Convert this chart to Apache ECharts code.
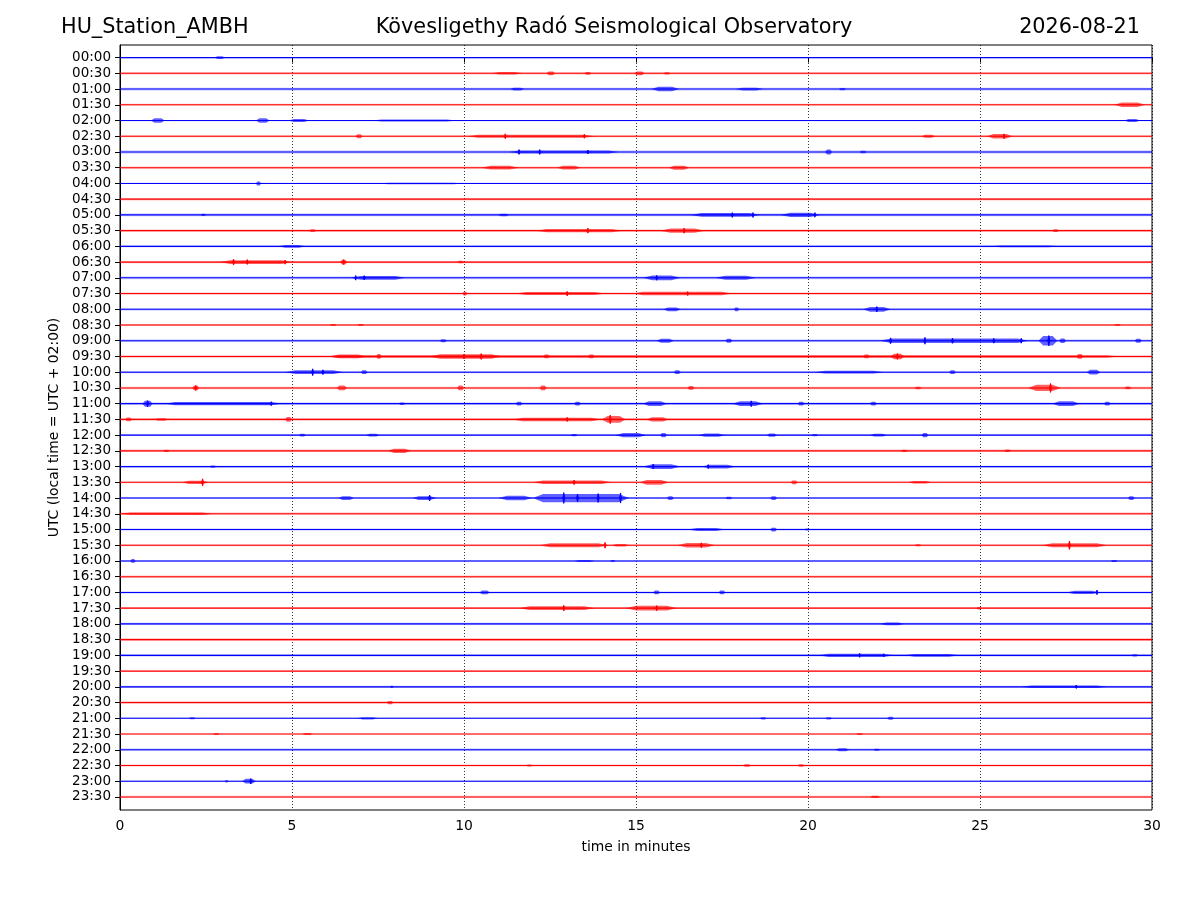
<!DOCTYPE html>
<html>
<head>
<meta charset="utf-8">
<script src="https://cdn.jsdelivr.net/npm/echarts@6/dist/echarts.min.js"></script>
<style>html,body{margin:0;padding:0;background:#fff}#c{width:1200px;height:900px}</style>
</head>
<body>
<div id="c"></div>
<script>
// ---- tick labels (one trace per half hour) ----
const rowLabels = ["00:00","00:30","01:00","01:30","02:00","02:30","03:00","03:30","04:00","04:30","05:00","05:30",
"06:00","06:30","07:00","07:30","08:00","08:30","09:00","09:30","10:00","10:30","11:00","11:30",
"12:00","12:30","13:00","13:30","14:00","14:30","15:00","15:30","16:00","16:30","17:00","17:30",
"18:00","18:30","19:00","19:30","20:00","20:30","21:00","21:30","22:00","22:30","23:00","23:30"];
const xTicks = [0,5,10,15,20,25,30];

// background noise level of each trace (fraction of trace spacing)
const rowNoise = [0.04,0.07,0.09,0.06,0.04,0.07,0.09,0.07,0.04,0.08,0.09,0.07,
0.05,0.07,0.09,0.07,0.07,0.07,0.08,0.08,0.07,0.08,0.07,0.08,
0.06,0.08,0.06,0.06,0.06,0.08,0.06,0.06,0.06,0.08,0.06,0.06,
0.07,0.09,0.07,0.04,0.07,0.09,0.05,0.04,0.08,0.07,0.05,0.07];

// bursts: [row, start minute, end minute, half amplitude]
const bursts = [
[0,2.75,3.05,0.09],
[1,10.8,11.7,0.08],[1,12.4,12.65,0.12],[1,13.5,13.7,0.09],[1,14.95,15.25,0.12],[1,15.8,16.0,0.07],
[2,11.35,11.75,0.09],[2,15.45,16.25,0.14],[2,17.9,18.7,0.09],[2,20.9,21.1,0.07],
[3,28.9,29.8,0.14],
[4,0.9,1.3,0.15],[4,3.95,4.35,0.15],[4,4.9,5.5,0.1],[4,7.3,9.8,0.06],[4,29.2,29.65,0.1],
[5,6.85,7.05,0.13],[5,10.1,13.8,0.1],[5,23.3,23.7,0.09],[5,25.2,25.95,0.14],
[6,11.3,14.5,0.1],[6,20.5,20.7,0.16],[6,21.5,21.7,0.08],
[7,10.5,11.6,0.12],[7,12.7,13.4,0.12],[7,15.95,16.55,0.13],
[8,3.95,4.1,0.13],[8,7.5,10.0,0.05],
[10,2.35,2.5,0.07],[10,11.0,11.3,0.08],[10,16.6,18.6,0.12],[10,19.2,20.35,0.13],
[11,5.5,5.7,0.08],[11,12.1,14.6,0.1],[11,15.7,17.0,0.13],[11,27.1,27.3,0.08],
[12,4.6,5.4,0.09],[12,25.3,27.3,0.06],
[13,2.9,5.0,0.12],[13,6.4,6.6,0.15],[13,9.8,10.0,0.08],
[14,6.7,8.3,0.12],[14,15.2,16.3,0.15],[14,17.3,18.5,0.13],
[15,9.95,10.1,0.12],[15,11.5,14.1,0.1],[15,14.9,17.8,0.11],
[16,15.8,16.3,0.12],[16,17.85,18.0,0.12],[16,21.6,22.4,0.15],
[17,6.1,6.3,0.07],[17,6.9,7.1,0.07],[17,28.9,29.1,0.07],
[18,9.3,9.5,0.1],[18,15.6,16.1,0.13],[18,17.6,17.8,0.13],[18,22.1,26.4,0.15],[18,26.7,27.25,0.3],[18,27.3,27.5,0.15],[18,29.5,29.7,0.12],
[19,6.0,29.0,0.08],[19,6.1,7.2,0.12],[19,7.45,7.6,0.15],[19,9.0,11.1,0.14],[19,12.3,12.5,0.12],[19,13.6,13.8,0.12],[19,21.6,21.8,0.12],[19,22.4,22.8,0.17],[19,27.8,28.0,0.15],
[20,4.8,6.5,0.12],[20,7.0,7.2,0.12],[20,16.1,16.3,0.12],[20,20.2,22.2,0.09],[20,24.1,24.3,0.12],[20,28.1,28.5,0.15],
[21,2.1,2.3,0.15],[21,6.3,6.6,0.15],[21,9.8,10.0,0.15],[21,12.2,12.4,0.15],[21,16.5,16.7,0.12],[21,23.1,23.3,0.08],[21,26.4,27.35,0.2],[21,29.2,29.4,0.09],
[22,0.65,0.95,0.19],[22,1.3,4.7,0.1],[22,8.1,8.3,0.08],[22,11.5,11.7,0.12],[22,13.2,13.4,0.12],[22,15.2,15.9,0.15],[22,17.8,18.7,0.15],[22,19.7,19.9,0.12],[22,21.8,22.0,0.12],[22,27.1,27.9,0.15],[22,28.6,28.8,0.12],
[23,0.15,0.35,0.12],[23,1.0,1.4,0.08],[23,4.8,5.0,0.15],[23,11.4,14.0,0.11],[23,14.0,14.7,0.22],[23,15.3,15.95,0.13],
[24,5.2,5.4,0.09],[24,7.15,7.55,0.09],[24,13.1,13.3,0.07],[24,14.4,15.3,0.13],[24,15.7,15.9,0.13],[24,16.8,17.6,0.1],[24,18.8,19.1,0.1],[24,20.1,20.3,0.07],[24,21.8,22.3,0.09],[24,23.3,23.5,0.13],
[25,1.25,1.45,0.07],[25,7.8,8.45,0.13],[25,22.7,22.9,0.07],[25,25.7,25.9,0.08],
[26,2.6,2.8,0.07],[26,15.2,16.3,0.15],[26,16.9,17.9,0.12],
[27,1.8,2.6,0.1],[27,12.0,14.3,0.11],[27,15.1,15.95,0.15],[27,19.5,19.7,0.12],[27,22.9,23.6,0.08],
[28,6.35,6.8,0.12],[28,8.5,9.2,0.12],[28,11.0,12.0,0.14],[28,12.0,14.8,0.26],[28,15.9,16.1,0.12],[28,17.6,17.8,0.08],[28,18.9,19.1,0.12],[28,29.3,29.5,0.12],
[29,0.0,2.7,0.08],
[30,16.5,17.6,0.09],[30,18.9,19.1,0.12],[30,19.9,20.05,0.07],
[31,12.2,14.2,0.12],[31,14.3,14.8,0.08],[31,16.2,17.3,0.15],[31,23.1,23.3,0.07],[31,26.8,28.7,0.13],
[32,0.3,0.45,0.12],[32,13.2,13.8,0.07],[32,14.25,14.4,0.07],[32,28.8,29.0,0.07],
[34,10.45,10.75,0.12],[34,15.5,15.7,0.12],[34,17.4,17.6,0.12],[34,27.5,28.5,0.1],
[35,11.6,13.8,0.12],[35,14.7,16.2,0.15],[35,24.9,25.05,0.08],
[36,22.1,22.8,0.09],
[38,20.3,22.5,0.11],[38,22.8,24.4,0.09],[38,29.4,29.6,0.07],
[40,7.85,7.95,0.07],[40,26.2,28.7,0.08],
[41,7.75,7.95,0.1],
[42,2.0,2.2,0.06],[42,6.9,7.5,0.07],[42,18.6,18.8,0.07],[42,20.5,20.7,0.07],[42,22.3,22.5,0.1],
[43,2.7,2.9,0.06],[43,5.3,5.6,0.06],[43,21.4,21.6,0.06],
[44,20.8,21.2,0.1],[44,21.9,22.1,0.07],
[45,11.8,12.0,0.07],[45,18.1,18.35,0.08],[45,19.7,19.9,0.08],
[46,3.05,3.15,0.08],[46,3.55,3.95,0.15],
[47,21.8,22.1,0.07]
];

// individual strong spikes: [row, minute, half amplitude]
const spikes = [
[5,11.2,0.16],[5,13.5,0.13],[5,25.7,0.16],
[6,11.6,0.16],[6,12.2,0.16],[6,13.6,0.13],
[10,17.8,0.16],[10,18.4,0.16],[10,20.2,0.15],
[11,13.6,0.16],[11,16.4,0.16],
[13,3.3,0.19],[13,3.7,0.16],[13,4.8,0.13],[13,6.5,0.16],
[14,6.85,0.15],[14,7.1,0.14],[14,15.6,0.16],
[15,13.0,0.15],[15,16.5,0.13],
[16,22.0,0.17],
[18,22.4,0.19],[18,23.4,0.22],[18,24.2,0.17],[18,25.4,0.16],[18,26.2,0.16],[18,27.0,0.33],
[19,10.0,0.16],[19,10.5,0.19],[19,22.6,0.19],
[20,5.6,0.22],[20,5.9,0.16],
[21,27.05,0.29],[21,2.2,0.16],
[22,0.8,0.2],[22,4.4,0.13],[22,18.35,0.19],
[23,13.0,0.14],[23,14.25,0.28],
[26,15.5,0.16],[26,17.1,0.13],
[27,2.4,0.23],[27,13.2,0.15],
[28,9.0,0.19],[28,12.9,0.35],[28,13.3,0.25],[28,13.9,0.29],[28,14.55,0.32],
[31,14.1,0.19],[31,16.9,0.16],[31,27.6,0.27],
[34,28.4,0.15],
[35,12.9,0.18],[35,15.6,0.17],
[38,21.5,0.13],[38,22.2,0.11],
[40,27.8,0.11],
[46,3.8,0.17]
];

const X_MIN = 0, X_MAX = 30;
const FONT = 'DejaVu Sans';
function rowColor(r){ return r % 2 === 0 ? '#0000ff' : '#ff0000'; }

const chart = echarts.init(document.getElementById('c'), null, {renderer:'canvas'});

const rowIdx = rowLabels.map((_, i) => i);

chart.setOption({
  animation: false,
  backgroundColor: '#ffffff',
  textStyle: { fontFamily: FONT },
  graphic: [
    { type:'text', x: 61, y: 28, style:{ text:'HU_Station_AMBH', font:'20.8px "DejaVu Sans"', fill:'#000', textAlign:'left', textVerticalAlign:'middle' } },
    { type:'text', x: 614, y: 28, style:{ text:'Kövesligethy Radó Seismological Observatory', font:'20.8px "DejaVu Sans"', fill:'#000', textAlign:'center', textVerticalAlign:'middle' } },
    { type:'text', x: 1140, y: 28, style:{ text:'2026-08-21', font:'20.8px "DejaVu Sans"', fill:'#000', textAlign:'right', textVerticalAlign:'middle' } }
  ],
  grid: { left:120, right:48, top:45, bottom:90, show:true, borderColor:'#000', borderWidth:1, backgroundColor:'transparent' },
  xAxis: {
    type:'value', min:X_MIN, max:X_MAX, interval:5,
    name:'time in minutes', nameLocation:'middle', nameGap:30,
    nameTextStyle:{ color:'#000', fontSize:13.9, fontFamily:FONT },
    axisLine:{ show:true, lineStyle:{ color:'#000', width:1 } },
    axisTick:{ show:true, length:5, lineStyle:{ color:'#000' } },
    axisLabel:{ color:'#000', fontSize:13.9, fontFamily:FONT, margin:9, formatter: v => xTicks.indexOf(v) >= 0 ? String(v) : '' },
    splitLine:{ show:true, lineStyle:{ color:'#000', type:[1,2], width:0.8 } }
  },
  yAxis: {
    type:'value', inverse:true, min:-0.8, max:47.83,
    name:'UTC (local time = UTC + 02:00)', nameLocation:'middle', nameGap:56,
    nameTextStyle:{ color:'#000', fontSize:13.9, fontFamily:FONT },
    axisLine:{ show:true, lineStyle:{ color:'#000', width:1 } },
    axisTick:{ show:true, length:5, customValues: rowIdx, lineStyle:{ color:'#000' } },
    axisLabel:{ color:'#000', fontSize:13.5, fontFamily:FONT, margin:9, customValues: rowIdx,
      formatter: v => rowLabels[Math.round(v)] || '' },
    splitLine:{ show:false }
  },
  series: [
    {
      type:'custom', name:'traces', clip:true,
      data: rowNoise.map((n, i) => [i, n]),
      renderItem: function(params, api){
        const r = api.value(0), n = api.value(1);
        const p0 = api.coord([X_MIN, r]);
        const p1 = api.coord([X_MAX, r]);
        const top = api.coord([X_MIN, r - n]);
        const bot = api.coord([X_MIN, r + n]);
        const c = rowColor(r);
        return { type:'group', children:[
          { type:'rect', shape:{ x:p0[0], y:Math.min(top[1],bot[1]), width:p1[0]-p0[0], height:Math.abs(bot[1]-top[1]) },
            style:{ fill:c, opacity:0.25 } },
          { type:'line', shape:{ x1:p0[0], y1:p0[1], x2:p1[0], y2:p1[1] }, style:{ stroke:c, lineWidth:1.1 } }
        ]};
      }
    },
    {
      type:'custom', name:'bursts', clip:true,
      data: bursts,
      renderItem: function(params, api){
        const r = api.value(0), s = api.value(1), e = api.value(2), a = api.value(3);
        const L = e - s, t = Math.min(L * 0.25, 0.3);
        const pts = [
          api.coord([s, r]), api.coord([s + t, r - a]), api.coord([e - t, r - a]),
          api.coord([e, r]), api.coord([e - t, r + a]), api.coord([s + t, r + a])
        ];
        return { type:'polygon', shape:{ points: pts }, style:{ fill: rowColor(r), opacity:0.62 } };
      }
    },
    {
      type:'custom', name:'spikes', clip:true,
      data: spikes,
      renderItem: function(params, api){
        const r = api.value(0), m = api.value(1), a = api.value(2);
        const p1 = api.coord([m, r - a]), p2 = api.coord([m, r + a]);
        const w1 = api.coord([m - 0.05, r]), w2 = api.coord([m + 0.05, r]);
        return { type:'group', children:[
          { type:'polygon', shape:{ points:[p1, w2, p2, w1] }, style:{ fill: rowColor(r), opacity:0.85 } },
          { type:'line', shape:{ x1:p1[0], y1:p1[1], x2:p2[0], y2:p2[1] }, style:{ stroke: rowColor(r), lineWidth:1.3 } }
        ]};
      }
    }
  ]
});
</script>
</body>
</html>
